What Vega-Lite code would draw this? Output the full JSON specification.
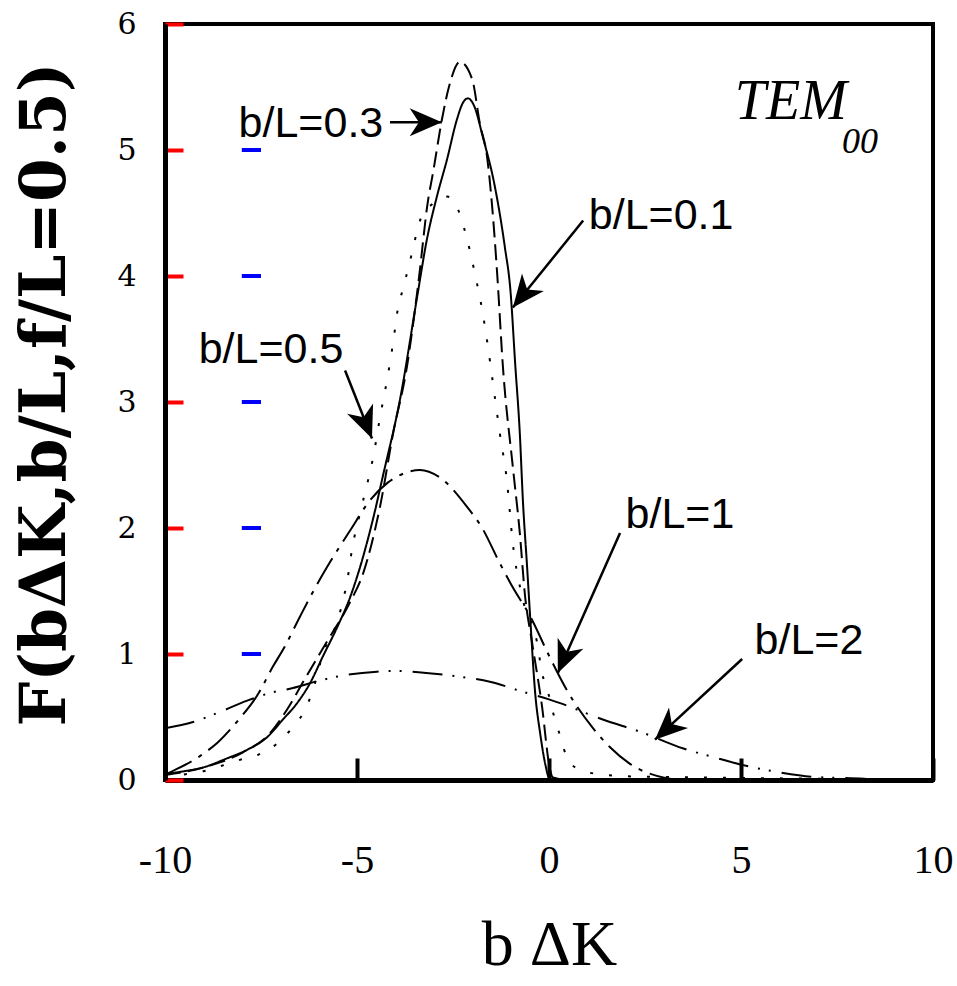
{
  "$schema": "https://vega.github.io/schema/vega-lite/v6.json",
  "autosize": "none",
  "width": 768,
  "height": 756,
  "padding": {"left": 165, "top": 24, "right": 24, "bottom": 206},
  "background": "white",
  "config": {"view": {"stroke": "black", "strokeWidth": 4}},
  "datasets": {
    "curves": [
      {"s": "0.1", "x": -10, "y": 0.05}, {"s": "0.1", "x": -9.5, "y": 0.07}, {"s": "0.1", "x": -9.0, "y": 0.1}, {"s": "0.1", "x": -8.4, "y": 0.17}, {"s": "0.1", "x": -7.86, "y": 0.24}, {"s": "0.1", "x": -7.34, "y": 0.34}, {"s": "0.1", "x": -6.93, "y": 0.48}, {"s": "0.1", "x": -6.56, "y": 0.61}, {"s": "0.1", "x": -6.22, "y": 0.77}, {"s": "0.1", "x": -5.89, "y": 0.98}, {"s": "0.1", "x": -5.52, "y": 1.21}, {"s": "0.1", "x": -5.18, "y": 1.45}, {"s": "0.1", "x": -4.92, "y": 1.69}, {"s": "0.1", "x": -4.6, "y": 2.05}, {"s": "0.1", "x": -4.32, "y": 2.42}, {"s": "0.1", "x": -3.88, "y": 3.02}, {"s": "0.1", "x": -3.42, "y": 3.86}, {"s": "0.1", "x": -3.18, "y": 4.29}, {"s": "0.1", "x": -2.92, "y": 4.63}, {"s": "0.1", "x": -2.66, "y": 4.92}, {"s": "0.1", "x": -2.4, "y": 5.24}, {"s": "0.1", "x": -2.25, "y": 5.37}, {"s": "0.1", "x": -2.11, "y": 5.41}, {"s": "0.1", "x": -1.95, "y": 5.35}, {"s": "0.1", "x": -1.72, "y": 5.1}, {"s": "0.1", "x": -1.41, "y": 4.71}, {"s": "0.1", "x": -1.15, "y": 4.23}, {"s": "0.1", "x": -1.0, "y": 3.87}, {"s": "0.1", "x": -0.88, "y": 3.3}, {"s": "0.1", "x": -0.76, "y": 2.75}, {"s": "0.1", "x": -0.68, "y": 2.22}, {"s": "0.1", "x": -0.57, "y": 1.69}, {"s": "0.1", "x": -0.49, "y": 1.29}, {"s": "0.1", "x": -0.36, "y": 0.69}, {"s": "0.1", "x": -0.23, "y": 0.37}, {"s": "0.1", "x": -0.1, "y": 0.13}, {"s": "0.1", "x": 0, "y": 0.02}, {"s": "0.1", "x": 0.2, "y": 0}, {"s": "0.1", "x": 10, "y": 0},
      {"s": "0.3", "x": -10, "y": 0.04}, {"s": "0.3", "x": -9, "y": 0.1}, {"s": "0.3", "x": -7.97, "y": 0.22}, {"s": "0.3", "x": -7.3, "y": 0.36}, {"s": "0.3", "x": -6.82, "y": 0.56}, {"s": "0.3", "x": -6.4, "y": 0.78}, {"s": "0.3", "x": -5.78, "y": 1.1}, {"s": "0.3", "x": -5.2, "y": 1.4}, {"s": "0.3", "x": -4.84, "y": 1.64}, {"s": "0.3", "x": -4.4, "y": 2.17}, {"s": "0.3", "x": -4.06, "y": 2.75}, {"s": "0.3", "x": -3.7, "y": 3.28}, {"s": "0.3", "x": -3.4, "y": 3.95}, {"s": "0.3", "x": -3.15, "y": 4.6}, {"s": "0.3", "x": -3.02, "y": 4.82}, {"s": "0.3", "x": -2.79, "y": 5.24}, {"s": "0.3", "x": -2.58, "y": 5.53}, {"s": "0.3", "x": -2.32, "y": 5.7}, {"s": "0.3", "x": -2.0, "y": 5.56}, {"s": "0.3", "x": -1.8, "y": 5.21}, {"s": "0.3", "x": -1.61, "y": 4.94}, {"s": "0.3", "x": -1.48, "y": 4.55}, {"s": "0.3", "x": -1.35, "y": 4.02}, {"s": "0.3", "x": -1.2, "y": 3.28}, {"s": "0.3", "x": -0.94, "y": 2.48}, {"s": "0.3", "x": -0.76, "y": 1.96}, {"s": "0.3", "x": -0.63, "y": 1.48}, {"s": "0.3", "x": -0.44, "y": 1.09}, {"s": "0.3", "x": -0.18, "y": 0.58}, {"s": "0.3", "x": 0, "y": 0.13}, {"s": "0.3", "x": 0.1, "y": 0.02}, {"s": "0.3", "x": 0.5, "y": 0}, {"s": "0.3", "x": 10, "y": 0},
      {"s": "0.5", "x": -10, "y": 0.03}, {"s": "0.5", "x": -9, "y": 0.07}, {"s": "0.5", "x": -8.05, "y": 0.16}, {"s": "0.5", "x": -7.58, "y": 0.2}, {"s": "0.5", "x": -7.08, "y": 0.29}, {"s": "0.5", "x": -6.67, "y": 0.42}, {"s": "0.5", "x": -6.35, "y": 0.56}, {"s": "0.5", "x": -6.15, "y": 0.71}, {"s": "0.5", "x": -5.89, "y": 1.0}, {"s": "0.5", "x": -5.49, "y": 1.28}, {"s": "0.5", "x": -5.36, "y": 1.43}, {"s": "0.5", "x": -5.26, "y": 1.57}, {"s": "0.5", "x": -5.13, "y": 1.83}, {"s": "0.5", "x": -4.92, "y": 2.12}, {"s": "0.5", "x": -4.71, "y": 2.38}, {"s": "0.5", "x": -4.58, "y": 2.56}, {"s": "0.5", "x": -4.4, "y": 2.88}, {"s": "0.5", "x": -4.22, "y": 3.17}, {"s": "0.5", "x": -4.06, "y": 3.47}, {"s": "0.5", "x": -3.93, "y": 3.75}, {"s": "0.5", "x": -3.8, "y": 3.9}, {"s": "0.5", "x": -3.57, "y": 4.18}, {"s": "0.5", "x": -3.36, "y": 4.44}, {"s": "0.5", "x": -3.0, "y": 4.58}, {"s": "0.5", "x": -2.65, "y": 4.63}, {"s": "0.5", "x": -2.45, "y": 4.58}, {"s": "0.5", "x": -2.14, "y": 4.3}, {"s": "0.5", "x": -1.93, "y": 4.02}, {"s": "0.5", "x": -1.74, "y": 3.73}, {"s": "0.5", "x": -1.59, "y": 3.44}, {"s": "0.5", "x": -1.46, "y": 3.15}, {"s": "0.5", "x": -1.28, "y": 2.75}, {"s": "0.5", "x": -1.09, "y": 2.36}, {"s": "0.5", "x": -0.95, "y": 1.9}, {"s": "0.5", "x": -0.68, "y": 1.43}, {"s": "0.5", "x": -0.31, "y": 1.09}, {"s": "0.5", "x": -0.18, "y": 0.85}, {"s": "0.5", "x": -0.02, "y": 0.69}, {"s": "0.5", "x": 0.11, "y": 0.53}, {"s": "0.5", "x": 0.24, "y": 0.4}, {"s": "0.5", "x": 0.37, "y": 0.26}, {"s": "0.5", "x": 0.68, "y": 0.1}, {"s": "0.5", "x": 1.2, "y": 0.05}, {"s": "0.5", "x": 2, "y": 0.03}, {"s": "0.5", "x": 4, "y": 0.02}, {"s": "0.5", "x": 7, "y": 0.01}, {"s": "0.5", "x": 10, "y": 0},
      {"s": "1", "x": -10, "y": 0.04}, {"s": "1", "x": -9.87, "y": 0.06}, {"s": "1", "x": -9.09, "y": 0.19}, {"s": "1", "x": -8.62, "y": 0.3}, {"s": "1", "x": -8.05, "y": 0.49}, {"s": "1", "x": -7.6, "y": 0.67}, {"s": "1", "x": -7.19, "y": 0.9}, {"s": "1", "x": -6.88, "y": 1.06}, {"s": "1", "x": -6.48, "y": 1.3}, {"s": "1", "x": -6.17, "y": 1.48}, {"s": "1", "x": -5.78, "y": 1.69}, {"s": "1", "x": -5.18, "y": 1.98}, {"s": "1", "x": -4.66, "y": 2.22}, {"s": "1", "x": -4.2, "y": 2.36}, {"s": "1", "x": -3.88, "y": 2.42}, {"s": "1", "x": -3.36, "y": 2.46}, {"s": "1", "x": -2.84, "y": 2.4}, {"s": "1", "x": -2.14, "y": 2.17}, {"s": "1", "x": -1.76, "y": 2.01}, {"s": "1", "x": -1.28, "y": 1.72}, {"s": "1", "x": -1.0, "y": 1.56}, {"s": "1", "x": -0.44, "y": 1.27}, {"s": "1", "x": -0.02, "y": 1.0}, {"s": "1", "x": 0.49, "y": 0.7}, {"s": "1", "x": 1.15, "y": 0.41}, {"s": "1", "x": 1.59, "y": 0.26}, {"s": "1", "x": 2.1, "y": 0.13}, {"s": "1", "x": 2.97, "y": 0.02}, {"s": "1", "x": 3.5, "y": 0}, {"s": "1", "x": 10, "y": 0},
      {"s": "2", "x": -10, "y": 0.41}, {"s": "2", "x": -9.27, "y": 0.46}, {"s": "2", "x": -8.57, "y": 0.54}, {"s": "2", "x": -7.86, "y": 0.63}, {"s": "2", "x": -7.27, "y": 0.69}, {"s": "2", "x": -6.67, "y": 0.73}, {"s": "2", "x": -5.96, "y": 0.79}, {"s": "2", "x": -5.36, "y": 0.83}, {"s": "2", "x": -4.48, "y": 0.86}, {"s": "2", "x": -3.96, "y": 0.865}, {"s": "2", "x": -3.2, "y": 0.85}, {"s": "2", "x": -2.32, "y": 0.82}, {"s": "2", "x": -1.54, "y": 0.78}, {"s": "2", "x": -0.68, "y": 0.7}, {"s": "2", "x": 0, "y": 0.64}, {"s": "2", "x": 0.29, "y": 0.61}, {"s": "2", "x": 1.4, "y": 0.48}, {"s": "2", "x": 2.4, "y": 0.38}, {"s": "2", "x": 3.5, "y": 0.25}, {"s": "2", "x": 4.3, "y": 0.18}, {"s": "2", "x": 5.31, "y": 0.1}, {"s": "2", "x": 6.02, "y": 0.06}, {"s": "2", "x": 6.88, "y": 0.025}, {"s": "2", "x": 8.2, "y": 0.01}, {"s": "2", "x": 8.6, "y": 0}
    ],
    "labels": [
      {"text": "b/L=0.3", "x": -6.2, "y": 5.21},
      {"text": "b/L=0.1", "x": 2.92, "y": 4.48},
      {"text": "b/L=0.5", "x": -7.24, "y": 3.41},
      {"text": "b/L=1", "x": 3.41, "y": 2.1},
      {"text": "b/L=2", "x": 6.77, "y": 1.1}
    ],
    "arrows": [
      {"x": -4.14, "y": 5.22, "xt": -2.79, "yt": 5.22, "ang": 90},
      {"x": 0.89, "y": 4.44, "xt": -0.94, "yt": 3.75, "ang": 218.5},
      {"x": -5.31, "y": 3.25, "xt": -4.61, "yt": 2.71, "ang": 158.3},
      {"x": 1.85, "y": 1.96, "xt": 0.23, "yt": 0.85, "ang": 203.2},
      {"x": 5.03, "y": 0.96, "xt": 2.76, "yt": 0.32, "ang": 227}
    ],
    "yticks": [{"v": 1}, {"v": 2}, {"v": 3}, {"v": 4}, {"v": 5}],
    "tem": [{"text": "TEM", "x": 4.84, "y": 5.25}],
    "sub": [{"text": "00", "x": 7.63, "y": 4.98}]
  },
  "layer": [
    {
      "data": {"name": "curves"},
      "mark": {"type": "line", "color": "black", "strokeWidth": 2, "interpolate": "monotone", "clip": true, "strokeCap": "butt"},
      "encoding": {
        "x": {"field": "x", "type": "quantitative", "scale": {"domain": [-10, 10], "nice": false},
          "axis": {"values": [-10, -5, 0, 5, 10], "labelExpr": "'' + datum.value", "title": "b ΔK", "grid": false, "domainColor": "black", "domainWidth": 5,
            "tickColor": "black", "tickWidth": 4, "tickSize": -22, "labelPadding": 82,
            "labelFont": "Liberation Serif", "labelFontSize": 40, "labelColor": "black", "labelFlush": false,
            "titleFont": "Liberation Serif", "titleFontSize": 64, "titleFontWeight": "normal", "titleColor": "black",
            "titleX": 384, "titleY": 165, "titleBaseline": "middle", "titleAlign": "center"}},
        "y": {"field": "y", "type": "quantitative", "scale": {"domain": [0, 6], "nice": false},
          "axis": {"values": [0, 1, 2, 3, 4, 5, 6], "labelExpr": "'' + datum.value", "title": "F(bΔK,b/L,f/L=0.5)", "grid": false, "domainColor": "black", "domainWidth": 5,
            "ticks": true, "tickColor": "red", "tickWidth": 4, "tickSize": -18, "labelPadding": 47,
            "labelFont": "DejaVu Serif", "labelFontSize": 30, "labelColor": "black", "labelFlush": false,
            "titleFont": "DejaVu Serif", "titleFontSize": 63, "titleFontWeight": "bold", "titleColor": "black",
            "titleX": -120, "titleY": 370, "titleBaseline": "middle", "titleAlign": "center", "titleAngle": -90}},
        "strokeDash": {"field": "s", "type": "nominal", "legend": null,
          "scale": {"domain": ["0.1", "0.3", "0.5", "1", "2"], "range": [[1, 0], [16, 7], [3, 16], [30, 8, 4, 8], [30, 10, 2, 9, 2, 11]]}}
      }
    },
    {
      "data": {"name": "yticks"},
      "mark": {"type": "rule", "color": "blue", "strokeWidth": 4},
      "encoding": {
        "y": {"field": "v", "type": "quantitative"},
        "x": {"datum": -8},
        "x2": {"datum": -7.5}
      }
    },
    {
      "data": {"name": "arrows"},
      "mark": {"type": "rule", "color": "black", "strokeWidth": 2.5},
      "encoding": {
        "x": {"field": "x", "type": "quantitative"},
        "y": {"field": "y", "type": "quantitative"},
        "x2": {"field": "xt"},
        "y2": {"field": "yt"}
      }
    },
    {
      "data": {"name": "arrows"},
      "mark": {"type": "point", "filled": true, "color": "black", "opacity": 1, "shape": "M0,0L0.5,1.15L0,0.82L-0.5,1.15Z", "size": 3136},
      "encoding": {
        "x": {"field": "xt", "type": "quantitative"},
        "y": {"field": "yt", "type": "quantitative"},
        "angle": {"field": "ang", "type": "quantitative", "scale": null}
      }
    },
    {
      "data": {"name": "labels"},
      "mark": {"type": "text", "font": "Liberation Sans", "fontSize": 43, "color": "black", "align": "center", "baseline": "middle"},
      "encoding": {
        "x": {"field": "x", "type": "quantitative"},
        "y": {"field": "y", "type": "quantitative"},
        "text": {"field": "text"}
      }
    },
    {
      "data": {"name": "tem"},
      "mark": {"type": "text", "font": "Liberation Serif", "fontStyle": "italic", "fontSize": 56, "color": "black", "align": "left", "baseline": "alphabetic"},
      "encoding": {
        "x": {"field": "x", "type": "quantitative"},
        "y": {"field": "y", "type": "quantitative"},
        "text": {"field": "text"}
      }
    },
    {
      "data": {"name": "sub"},
      "mark": {"type": "text", "font": "Liberation Serif", "fontStyle": "italic", "fontSize": 36, "color": "black", "align": "left", "baseline": "alphabetic"},
      "encoding": {
        "x": {"field": "x", "type": "quantitative"},
        "y": {"field": "y", "type": "quantitative"},
        "text": {"field": "text"}
      }
    }
  ]
}
